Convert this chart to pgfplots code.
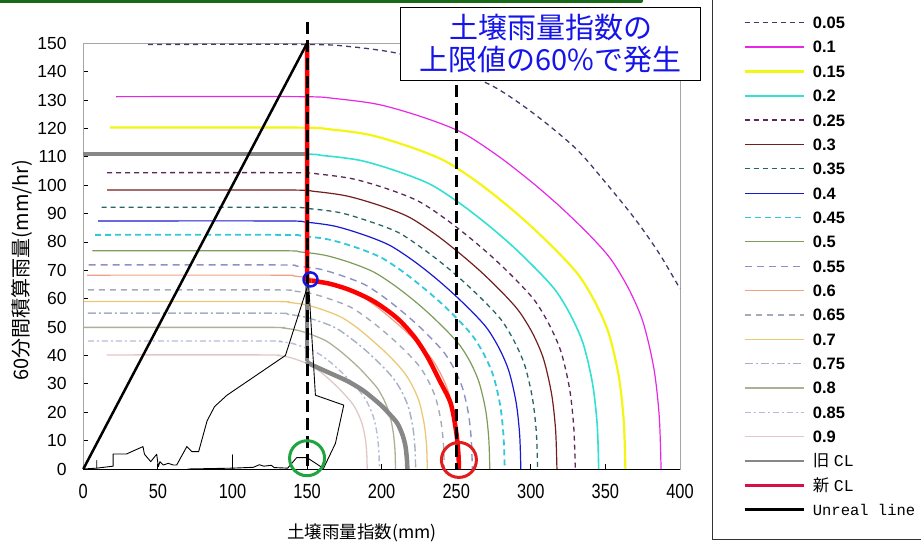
\documentclass[border=0pt]{standalone}
\usepackage{pgfplots}
\pgfplotsset{compat=1.18}
\usepackage{fontspec}
\setmainfont{Liberation Sans}
\newfontfamily\cjk{Noto Sans CJK JP}
\newfontfamily\xtfont[FakeStretch=0.8]{Liberation Sans}
\newfontfamily\monof{Liberation Mono}
\definecolor{c05}{RGB}{60,60,110}
\definecolor{c10}{RGB}{230,40,230}
\definecolor{c15}{RGB}{245,245,20}
\definecolor{c20}{RGB}{50,225,210}
\definecolor{c25}{RGB}{90,40,90}
\definecolor{c30}{RGB}{115,30,30}
\definecolor{c35}{RGB}{40,100,100}
\definecolor{c40}{RGB}{25,25,210}
\definecolor{c45}{RGB}{50,200,215}
\definecolor{c50}{RGB}{125,155,90}
\definecolor{c55}{RGB}{140,145,195}
\definecolor{c60}{RGB}{240,160,135}
\definecolor{c65}{RGB}{165,170,185}
\definecolor{c70}{RGB}{235,200,120}
\definecolor{c75}{RGB}{165,175,200}
\definecolor{c80}{RGB}{170,178,150}
\definecolor{c85}{RGB}{180,188,215}
\definecolor{c90}{RGB}{225,200,200}
\definecolor{oldcl}{RGB}{135,135,135}
\definecolor{newcl}{RGB}{255,0,0}
\definecolor{legnew}{RGB}{215,15,70}
\definecolor{boxblue}{RGB}{20,20,235}
\definecolor{slidegreen}{RGB}{25,105,25}
\definecolor{cgreen}{RGB}{30,165,65}
\definecolor{cred}{RGB}{225,30,30}
\definecolor{cblue}{RGB}{20,20,230}
\tikzset{
 s05/.style={c05, line width=1.3pt, dash pattern=on 5pt off 4pt},
 s10/.style={c10, line width=1.2pt},
 s15/.style={c15, line width=2.2pt},
 s20/.style={c20, line width=1.6pt},
 s25/.style={c25, line width=1.3pt, dash pattern=on 5pt off 4pt},
 s30/.style={c30, line width=1.2pt},
 s35/.style={c35, line width=1.3pt, dash pattern=on 5pt off 4pt},
 s40/.style={c40, line width=1.2pt},
 s45/.style={c45, line width=1.8pt, dash pattern=on 6pt off 4pt},
 s50/.style={c50, line width=1.2pt},
 s55/.style={c55, line width=1.4pt, dash pattern=on 7pt off 5pt},
 s60/.style={c60, line width=1.2pt},
 s65/.style={c65, line width=1.4pt, dash pattern=on 6pt off 5pt},
 s70/.style={c70, line width=1.3pt},
 s75/.style={c75, line width=1.4pt, dash pattern=on 8pt off 3pt on 2pt off 3pt},
 s80/.style={c80, line width=1.3pt},
 s85/.style={c85, line width=1.4pt, dash pattern=on 6pt off 3pt on 2pt off 3pt},
 s90/.style={c90, line width=1.3pt},
}
\begin{document}
\begin{tikzpicture}
\path[use as bounding box] (0pt,0pt) rectangle (921pt,-545pt);
\fill[slidegreen, rounded corners=2pt] (-6pt,4pt) rectangle (643pt,-3pt);
\begin{axis}[
 at={(83.3pt,-469pt)}, anchor=south west,
 width=596.7pt, height=425.7pt, scale only axis,
 xmin=0, xmax=400, ymin=0, ymax=150,
 clip=false,
 xtick={0,50,...,400}, ytick={0,10,...,150},
 xtick pos=left, ytick pos=left,
 tick align=inside,
 major tick length=5pt,
 tick style={black, line width=0.8pt},
 axis line style={draw=gray!70, line width=1pt},
 /pgf/number format/assume math mode=true,
 xticklabel style={font=\xtfont\fontsize{20.5}{20.5}\selectfont, inner sep=0pt, yshift=-15pt},
 yticklabel style={font=\fontsize{17.5}{17.5}\selectfont, inner sep=0pt, xshift=-16.6pt},
 legend style={at={(1.0536,-0.1668)}, anchor=south west, draw=black!80, line width=0.8pt, fill=white,
   inner xsep=31pt, inner ysep=24pt, row sep=12.55pt, column sep=8pt,
   font=\fontsize{16.5}{16.5}\selectfont\bfseries,
   nodes={inner sep=0pt, text height=11.8pt, text depth=0pt}},
 legend cell align=left,
 legend image code/.code={\draw[#1] (0pt,0pt) -- (59pt,0pt);},
 every axis plot/.append style={line join=round},
]
% contours
\addplot[s05, smooth, tension=0.5, forget plot] coordinates {(43.5,149.6) (150,149.6) (177.5,148.9) (210.5,146.5) (243.5,141.4) (273.8,135.1) (301.3,125.5) (330,113) (350,101) (370,88) (386,76) (400,63.5)};
\addplot[s10, smooth, tension=0.5, forget plot] coordinates {(22,131.2) (145,131.2) (169.2,130.5) (198.3,128.4) (227.4,124.0) (254.0,118.5) (278.3,110.2) (300.1,101.3) (319.5,92.5) (338.8,82.7) (353.4,74.1) (365.5,63.6) (375.2,51.8) (382.5,35.4) (386.1,18.4) (387.3,0)};
\addplot[s15, smooth, tension=0.5, forget plot] coordinates {(18,120.3) (143,120.3) (165.0,119.7) (191.5,117.8) (217.9,113.7) (242.2,108.6) (264.2,101.1) (284.1,92.9) (301.7,84.8) (319.3,75.8) (332.5,68.0) (343.6,58.3) (352.4,47.5) (359.0,32.5) (362.3,16.8) (363.4,0)};
\addplot[s20, smooth, tension=0.5, forget plot] coordinates {(12,111) (141,111) (161.5,110.4) (186.0,108.7) (210.5,104.9) (233.0,100.2) (253.5,93.2) (271.9,85.7) (288.2,78.3) (304.6,69.9) (316.9,62.7) (327.1,53.8) (335.3,43.8) (341.4,30.0) (344.5,15.5) (345.5,0)};
\addplot[s25, smooth, tension=0.5, forget plot] coordinates {(16,104.4) (139,104.4) (158.1,103.9) (181.0,102.2) (203.9,98.7) (224.9,94.3) (243.9,87.7) (261.1,80.6) (276.4,73.6) (291.6,65.8) (303.1,59.0) (312.6,50.6) (320.3,41.2) (326.0,28.2) (328.8,14.6) (329.8,0)};
\addplot[s30, smooth, tension=0.5, forget plot] coordinates {(16,98.3) (137,98.3) (155.1,97.8) (176.7,96.2) (198.4,92.9) (218.2,88.8) (236.3,82.6) (252.5,75.9) (267.0,69.3) (281.4,61.9) (292.2,55.5) (301.3,47.7) (308.5,38.8) (313.9,26.5) (316.6,13.8) (317.5,0)};
\addplot[s35, smooth, tension=0.5, forget plot] coordinates {(12.3,92.2) (135,92.2) (152.0,91.7) (172.3,90.3) (192.6,87.1) (211.3,83.3) (228.2,77.4) (243.5,71.2) (257.0,65.0) (270.6,58.1) (280.8,52.1) (289.2,44.7) (296.0,36.4) (301.1,24.9) (303.7,12.9) (304.5,0)};
\addplot[s40, smooth, tension=0.5, forget plot] coordinates {(10,87.4) (133,87.4) (149.0,87.0) (168.3,85.6) (187.5,82.6) (205.1,78.9) (221.2,73.4) (235.6,67.5) (248.4,61.6) (261.2,55.1) (270.9,49.4) (278.9,42.4) (285.3,34.5) (290.1,23.6) (292.5,12.2) (293.3,0)};
\addplot[s45, smooth, tension=0.5, forget plot] coordinates {(8,82.5) (132,82.5) (147.1,82.1) (165.1,80.8) (183.2,78.0) (199.7,74.5) (214.8,69.3) (228.3,63.7) (240.4,58.2) (252.4,52.0) (261.4,46.6) (269.0,40.0) (275.0,32.6) (279.5,22.3) (281.7,11.6) (282.5,0)};
\addplot[s50, smooth, tension=0.5, forget plot] coordinates {(6,76.9) (131,76.9) (145.2,76.5) (162.1,75.3) (179.1,72.7) (194.7,69.4) (208.8,64.6) (221.6,59.4) (232.9,54.2) (244.2,48.4) (252.7,43.4) (259.8,37.3) (265.4,30.4) (269.7,20.8) (271.8,10.8) (272.5,0)};
\addplot[s55, smooth, tension=0.5, forget plot] coordinates {(3.5,71.9) (130,71.9) (143.1,71.5) (158.8,70.4) (174.5,67.9) (188.9,64.9) (201.9,60.4) (213.7,55.5) (224.2,50.7) (234.6,45.3) (242.5,40.6) (249.0,34.9) (254.3,28.4) (258.2,19.4) (260.1,10.1) (260.8,0)};
\addplot[s60, smooth, tension=0.5, forget plot] coordinates {(2.5,68.3) (129,68.3) (141.2,68.0) (155.8,66.9) (170.5,64.5) (183.9,61.7) (196.1,57.4) (207.1,52.7) (216.8,48.2) (226.6,43.0) (233.9,38.6) (240.0,33.1) (244.9,27.0) (248.6,18.4) (250.4,9.6) (251,0)};
\addplot[s65, smooth, tension=0.5, forget plot] coordinates {(3,63.1) (128,63.1) (139.4,62.8) (153.1,61.8) (166.8,59.6) (179.3,57.0) (190.7,53.0) (201.0,48.7) (210.1,44.5) (219.2,39.8) (226.0,35.7) (231.7,30.6) (236.3,24.9) (239.7,17.0) (241.4,8.8) (242,0)};
\addplot[s70, smooth, tension=0.5, forget plot] coordinates {(0.5,59.0) (127,59.0) (137.4,58.7) (149.8,57.8) (162.2,55.8) (173.6,53.3) (184.0,49.6) (193.3,45.5) (201.6,41.6) (209.9,37.2) (216.1,33.3) (221.3,28.6) (225.4,23.3) (228.5,15.9) (230.1,8.3) (230.6,0)};
\addplot[s75, smooth, tension=0.5, forget plot] coordinates {(3,54.9) (126,54.9) (135.7,54.6) (147.3,53.7) (158.9,51.9) (169.6,49.6) (179.2,46.1) (188.0,42.4) (195.7,38.7) (203.4,34.6) (209.2,31.0) (214.1,26.6) (218.0,21.7) (220.9,14.8) (222.3,7.7) (222.8,0)};
\addplot[s80, smooth, tension=0.5, forget plot] coordinates {(0.5,49.9) (125,49.9) (133.4,49.7) (143.5,48.9) (153.7,47.2) (162.9,45.1) (171.4,41.9) (179.0,38.5) (185.7,35.2) (192.4,31.4) (197.5,28.2) (201.7,24.2) (205.1,19.7) (207.6,13.5) (208.9,7.0) (209.3,0)};
\addplot[s85, smooth, tension=0.5, forget plot] coordinates {(3,45.1) (124,45.1) (131.5,44.9) (140.4,44.2) (149.3,42.6) (157.5,40.7) (165.0,37.9) (171.7,34.8) (177.6,31.8) (183.6,28.4) (188.1,25.5) (191.8,21.9) (194.8,17.8) (197.0,12.2) (198.1,6.3) (198.5,0)};
\addplot[s90, smooth, tension=0.5, forget plot] coordinates {(15.7,40.2) (123,40.2) (129.7,40.0) (137.8,39.4) (145.9,38.0) (153.3,36.3) (160.0,33.8) (166.1,31.0) (171.5,28.3) (176.8,25.3) (180.9,22.7) (184.2,19.5) (186.9,15.9) (189.0,10.9) (190.0,5.6) (190.3,0)};
% old CL
\addplot[oldcl, line width=4.5pt, forget plot] coordinates {(0,111) (150,111) (150,38)};
\addplot[oldcl, line width=4.5pt, smooth, tension=0.5, forget plot] coordinates {(150,38) (152,37) (165.7,33.7) (177,31) (188,27.5) (199.3,22.6) (205,19.5) (210.5,16.1) (214,12) (216,7.9) (217,3) (217.2,0)};
% new CL
\addplot[newcl, line width=4.5pt, forget plot] coordinates {(150,150) (150,66.5) (153,66.3)};
\addplot[newcl, line width=4.5pt, smooth, tension=0.5, forget plot] coordinates {(153,66.3) (165,65.3) (179,63) (195,59) (210.5,53.1) (222,46.5) (230.6,39.6) (239,31) (246.3,23.1) (250,13) (251.5,5) (251.8,0)};
% unreal line
\addplot[black, line width=2.5pt, forget plot] coordinates {(0,0) (150,150)};
% observed snake line
\addplot[black, line width=0.9pt, forget plot] coordinates {(0,0) (9,0.3) (9,3) (9,0.3) (20,1) (20,5.3) (29,5.3) (40,7.9) (41,5.2) (45.2,2.6) (49.2,5.2) (50.3,0.8) (51.4,2.6) (53.6,1.4) (57,2) (60.3,1.4) (62.6,1.4) (69.4,7.9) (72.8,6.1) (77.3,6.1) (83,17) (88,22) (96.3,26) (135.5,40) (151,65.5) (155.6,26) (174.6,22.5) (169,9) (161,0.2) (150,4) (143,4) (137,0.3) (128,0.5) (126,1.3) (121,1.0) (118,1.5) (114,0.6) (100,0.3) (100,5) (100,0.3) (70,0)};
% dashed verticals
\addplot[black, line width=3pt, dash pattern=on 12pt off 6pt, forget plot] coordinates {(150,157.6) (150,0)};
\addplot[black, line width=3pt, dash pattern=on 12pt off 6pt, forget plot] coordinates {(250,135.3) (250,0)};
% bottom axis line
\addplot[black, line width=1pt, forget plot] coordinates {(0,0) (400,0)};
% circles
\addplot[only marks, mark=o, mark size=17.5pt, mark options={line width=3pt, draw=cgreen}, forget plot] coordinates {(150,3.8)};
\addplot[only marks, mark=o, mark size=17.5pt, mark options={line width=3pt, draw=cred}, forget plot] coordinates {(251.8,3.2)};
\addplot[only marks, mark=o, mark size=7pt, mark options={line width=2.5pt, draw=cblue}, forget plot] coordinates {(152.3,66.8)};
% legend
\addlegendimage{s05}\addlegendentry{0.05}
\addlegendimage{s10}\addlegendentry{0.1}
\addlegendimage{s15}\addlegendentry{0.15}
\addlegendimage{s20}\addlegendentry{0.2}
\addlegendimage{s25}\addlegendentry{0.25}
\addlegendimage{s30}\addlegendentry{0.3}
\addlegendimage{s35}\addlegendentry{0.35}
\addlegendimage{s40}\addlegendentry{0.4}
\addlegendimage{s45}\addlegendentry{0.45}
\addlegendimage{s50}\addlegendentry{0.5}
\addlegendimage{s55}\addlegendentry{0.55}
\addlegendimage{s60}\addlegendentry{0.6}
\addlegendimage{s65}\addlegendentry{0.65}
\addlegendimage{s70}\addlegendentry{0.7}
\addlegendimage{s75}\addlegendentry{0.75}
\addlegendimage{s80}\addlegendentry{0.8}
\addlegendimage{s85}\addlegendentry{0.85}
\addlegendimage{s90}\addlegendentry{0.9}
\addlegendimage{oldcl, line width=2.5pt}\addlegendentry{\mdseries{\cjk 旧} {\monof CL}}
\addlegendimage{legnew, line width=2.5pt}\addlegendentry{\mdseries{\cjk 新} {\monof CL}}
\addlegendimage{black, line width=2.5pt}\addlegendentry{\mdseries\monof\fontsize{15.5}{15.5}\selectfont Unreal line}
\end{axis}
\node[draw=black, line width=1pt, fill=white, minimum width=300pt, minimum height=73pt, inner sep=0pt, align=center, text=boxblue, font=\cjk\fontsize{29}{32.6}\selectfont] at (550.5pt,-43.6pt) {土壌雨量指数の\\上限値の60\%で発生};
\node[rotate=90] at (21.7pt,-270pt) {\cjk\fontsize{20}{20}\selectfont 60分間積算雨量(mm/hr)};
\node at (362pt,-533pt) {\cjk\fontsize{17.5}{17.5}\selectfont 土壌雨量指数(mm)};
\end{tikzpicture}
\end{document}
